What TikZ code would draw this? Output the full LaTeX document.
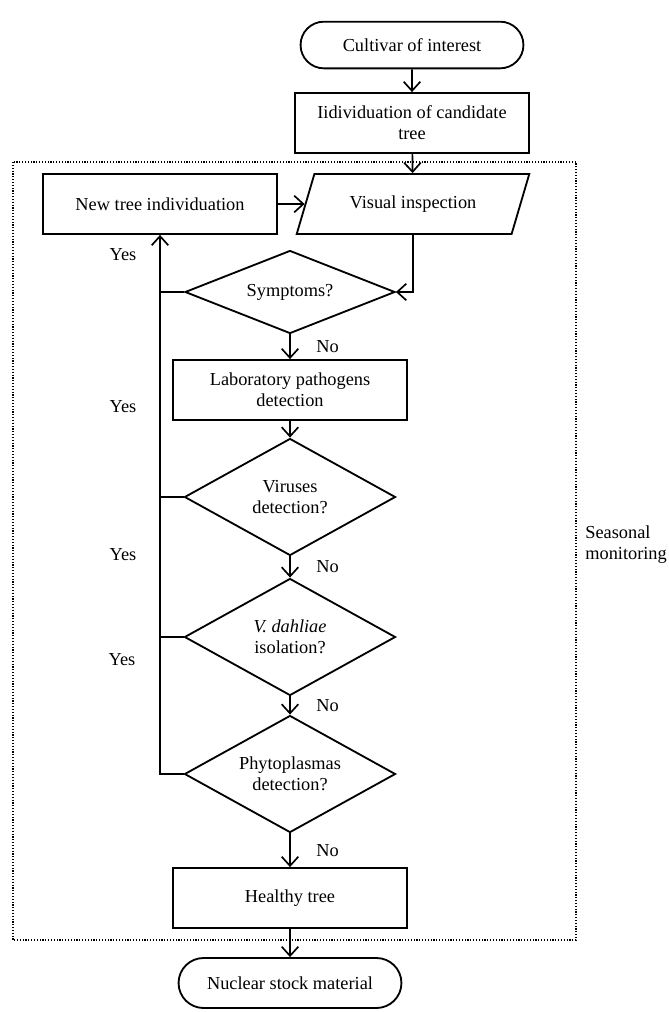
\documentclass[tikz,border=0pt]{standalone}
\usepackage{fontspec}
\setmainfont{Liberation Serif}
\usetikzlibrary{shapes.geometric,shapes.misc,arrows.meta}

\begin{document}
\begin{tikzpicture}[x=0.6pt, y=-0.6pt, >={Straight Barb[length=5.5pt,width=10pt]},
		every node/.style={font=\fontsize{11}{12.6}\selectfont},
		stepbox/.style={draw, line width=1.1pt, minimum width=140.4pt, minimum height=36pt, align=center, inner sep=2pt},
		termbox/.style={draw, line width=1.1pt, rounded rectangle, minimum width=140.4pt, minimum height=28pt},
		iobox/.style={draw, line width=1.1pt, trapezium, trapezium left angle=66, trapezium right angle=114, trapezium stretches=true, minimum width=140.4pt, minimum height=36pt},
		query/.style={draw, line width=1.1pt, diamond, align=center, inner sep=0pt, shape aspect=1.8, minimum width=126.6pt, minimum height=70.2pt},
		link/.style={line width=1pt}]
				\useasboundingbox (0,0) rectangle (669,1012);

				% Manual node positions
				\node[termbox] (cult) at (412,45) {Cultivar of interest};
				\node[stepbox] (cand) at (412,123) {Iidividuation of candidate\\tree};
				\node[iobox] (vis) at (413,204) {Visual inspection};
				\node[stepbox] (newtree) at (160,204) {New tree individuation};
				\node[query, shape aspect=2.5, minimum width=126pt, minimum height=49.8pt] (symp) at (290,292) {Symptoms?};
				\node[stepbox] (lab) at (290,390) {Laboratory pathogens\\detection};
				\node[query] (vir) at (290,497) {Viruses\\detection?};
				\node[query] (vdah) at (290,637) {\textit{V. dahliae}\\isolation?};
				\node[query] (phyto) at (290,774) {Phytoplasmas\\detection?};
				\node[stepbox] (healthy) at (290,898) {Healthy tree};
				\node[termbox, minimum height=30pt] (nucl) at (290,983) {Nuclear stock material};

				% Seasonal monitoring frame
				\draw[densely dotted, line width=0.7pt] (13,162) rectangle (576,940);
				\node[anchor=west, align=left, inner sep=0pt] (season) at (585,545) {Seasonal\\monitoring};

				% Yes labels
				\node (yes1) at (123,255) {Yes};
				\node (yes2) at (123,407) {Yes};
				\node (yes3) at (123,555) {Yes};
				\node (yes4) at (122,660) {Yes};

				% Connections
				\draw[link, ->] (cult) -- (cand);
				\draw[link, ->] (cand) -- (vis);
				\draw[link, ->] (newtree) -- (vis);
				\draw[link, ->] (vis.south) |- (symp.east);
				\draw[link, ->] (symp) -- (lab) node[midway, right=12pt] {No};
				\draw[link, ->] (lab) -- (vir);
				\draw[link, ->] (vir) -- (vdah) node[midway, right=12pt] {No};
				\draw[link, ->] (vdah) -- (phyto) node[midway, right=12pt] {No};
				\draw[link, ->] (phyto) -- (healthy) node[midway, right=12pt] {No};
				\draw[link, ->] (healthy) -- (nucl);
				\draw[link] (symp.west) -- (symp.west -| newtree.south);
				\draw[link] (vir.west) -- (vir.west -| newtree.south);
				\draw[link] (vdah.west) -- (vdah.west -| newtree.south);
				\draw[link, ->] (phyto.west) -- (phyto.west -| newtree.south) -- (newtree.south);

			\end{tikzpicture}
\end{document}
